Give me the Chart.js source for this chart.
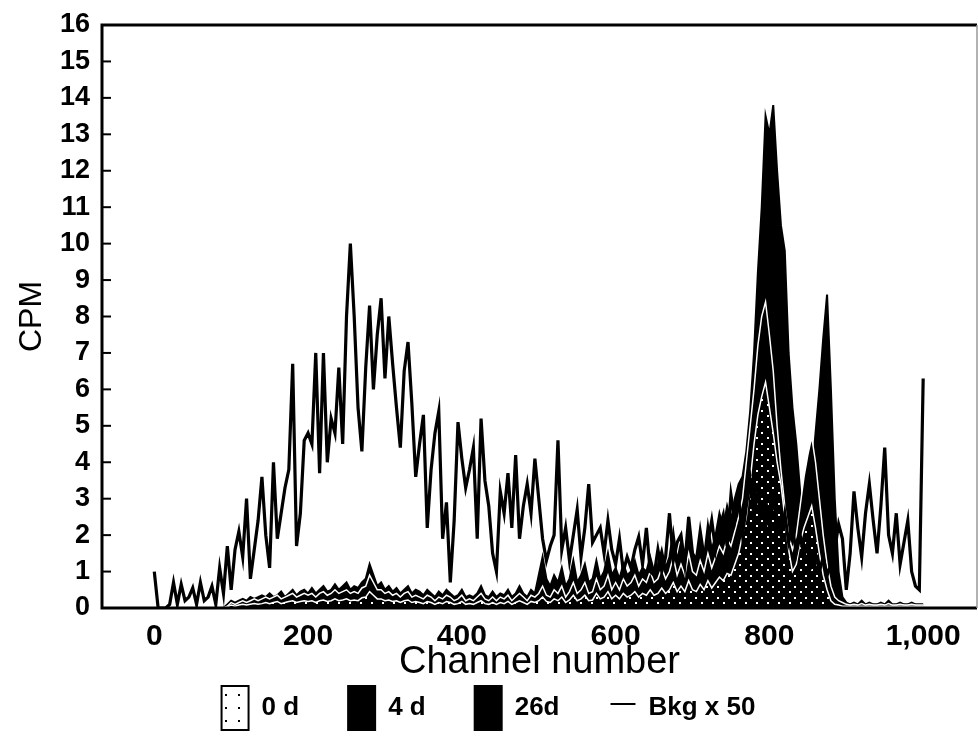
<!DOCTYPE html>
<html>
<head>
<meta charset="utf-8">
<title>CPM vs channel number</title>
<script src="https://cdn.jsdelivr.net/npm/chart.js@4.4.1/dist/chart.umd.min.js"></script>
<style>
  body { margin: 0; background: #fff; }
  canvas { display: block; }
</style>
</head>
<body>
<canvas id="spectrum" width="978" height="740"></canvas>
<script>
// every value array below is sampled every 5 channels, starting at channel 0
const channelStep = 5;

const seriesLabels = ["0 d", "4 d", "26d", "Bkg x 50"];
const xTicks = [0, 200, 400, 600, 800, 1000];
const yTicks = [0, 1, 2, 3, 4, 5, 6, 7, 8, 9, 10, 11, 12, 13, 14, 15, 16];

// 0 d
const cpm0d = [
  0, 0, 0, 0, 0, 0, 0, 0, 0, 0, 0, 0, 0, 0, 0, 0, 0, 0, 0, 0.03,
  0.08, 0.05, 0.08, 0.1, 0.08, 0.1, 0.12, 0.1, 0.12, 0.15, 0.12, 0.15, 0.18, 0.12, 0.15, 0.18, 0.2, 0.15, 0.18, 0.2,
  0.18, 0.2, 0.15, 0.2, 0.22, 0.18, 0.2, 0.25, 0.2, 0.22, 0.25, 0.2, 0.22, 0.2, 0.28, 0.3, 0.45, 0.35, 0.25, 0.25,
  0.2, 0.22, 0.18, 0.2, 0.15, 0.2, 0.22, 0.15, 0.18, 0.15, 0.12, 0.18, 0.15, 0.1, 0.15, 0.12, 0.18, 0.15, 0.1, 0.12,
  0.18, 0.1, 0.12, 0.1, 0.15, 0.2, 0.12, 0.1, 0.15, 0.1, 0.15, 0.12, 0.18, 0.1, 0.15, 0.2, 0.15, 0.1, 0.18, 0.15,
  0.2, 0.3, 0.18, 0.15, 0.25, 0.2, 0.3, 0.15, 0.22, 0.35, 0.2, 0.25, 0.35, 0.2, 0.22, 0.4, 0.25, 0.3, 0.45, 0.25,
  0.35, 0.25, 0.4, 0.3, 0.35, 0.45, 0.3, 0.4, 0.35, 0.5, 0.35, 0.4, 0.55, 0.4, 0.5, 0.7, 0.45, 0.6, 0.45, 0.75,
  0.5, 0.45, 0.65, 0.5, 0.75, 0.55, 0.7, 0.85, 0.75, 0.95, 0.9, 1.2, 1.5, 2.0, 2.5, 3.5, 4.5, 5.3, 5.8, 6.2,
  5.5, 4.8, 4.0, 3.4, 2.5, 1.6, 1.0, 1.2, 1.8, 2.2, 2.5, 2.8, 2.2, 1.5, 0.9, 0.5, 0.2, 0.1, 0.08, 0.05,
  0.05, 0.05, 0.05, 0.05, 0.05, 0.05, 0.05, 0.05, 0.05, 0.05, 0.05, 0.05, 0.05, 0.05, 0.05, 0.05, 0.05, 0.05, 0.05, 0.05,
  0.05
];

// 4 d
const cpm4d = [
  0, 0, 0, 0, 0, 0, 0, 0, 0, 0, 0, 0, 0, 0, 0, 0, 0, 0, 0, 0.05,
  0.15, 0.1, 0.15, 0.2, 0.15, 0.2, 0.25, 0.2, 0.25, 0.3, 0.25, 0.3, 0.35, 0.25, 0.3, 0.35, 0.4, 0.3, 0.35, 0.4,
  0.35, 0.4, 0.3, 0.4, 0.45, 0.35, 0.4, 0.5, 0.4, 0.45, 0.5, 0.4, 0.45, 0.4, 0.55, 0.6, 0.9, 0.7, 0.5, 0.5,
  0.4, 0.45, 0.35, 0.4, 0.3, 0.4, 0.45, 0.3, 0.35, 0.3, 0.25, 0.35, 0.3, 0.2, 0.3, 0.25, 0.35, 0.3, 0.2, 0.25,
  0.35, 0.2, 0.25, 0.2, 0.3, 0.4, 0.25, 0.2, 0.3, 0.2, 0.3, 0.25, 0.35, 0.2, 0.3, 0.4, 0.3, 0.2, 0.35, 0.3,
  0.4, 0.6, 0.35, 0.3, 0.5, 0.4, 0.6, 0.3, 0.45, 0.7, 0.4, 0.5, 0.7, 0.4, 0.45, 0.8, 0.5, 0.6, 0.9, 0.5,
  0.7, 0.5, 0.8, 0.6, 0.7, 0.9, 0.6, 0.8, 0.7, 1.0, 0.7, 0.8, 1.1, 0.8, 1.0, 1.4, 0.9, 1.2, 0.9, 1.5,
  1.0, 0.9, 1.3, 1.0, 1.5, 1.1, 1.4, 1.7, 1.5, 1.9, 1.7, 2.1, 2.5, 3.0, 4.0, 5.0, 6.0, 7.2, 8.0, 8.4,
  7.5, 6.5, 5.0, 3.8, 2.8, 2.0, 1.6, 2.0, 2.8, 3.6, 4.2, 4.7, 4.0, 3.0, 2.0, 1.2, 0.6, 0.3, 0.2, 0.15,
  0.1, 0.08, 0.1, 0.08, 0.12, 0.08, 0.1, 0.08, 0.08, 0.1, 0.08, 0.12, 0.08, 0.08, 0.1, 0.08, 0.08, 0.1, 0.08, 0.08,
  0.08
];

// 26d
const cpm26d = [
  0, 0, 0, 0, 0, 0, 0, 0, 0, 0, 0, 0, 0, 0, 0, 0, 0, 0, 0, 0.1,
  0.2, 0.15, 0.2, 0.25, 0.2, 0.3, 0.25, 0.3, 0.35, 0.3, 0.4, 0.3, 0.35, 0.45, 0.3, 0.4, 0.5, 0.35, 0.45, 0.5,
  0.4, 0.55, 0.4, 0.5, 0.6, 0.45, 0.5, 0.65, 0.5, 0.6, 0.7, 0.5, 0.6, 0.55, 0.7, 0.8, 1.2, 0.9, 0.6, 0.7,
  0.5, 0.6, 0.45, 0.55, 0.4, 0.5, 0.6, 0.4, 0.5, 0.45, 0.35, 0.5, 0.4, 0.3, 0.45, 0.35, 0.5, 0.4, 0.3, 0.35,
  0.5, 0.3, 0.35, 0.3, 0.4, 0.6, 0.35, 0.3, 0.45, 0.3, 0.4, 0.35, 0.5, 0.3, 0.4, 0.6, 0.4, 0.3, 0.5, 0.4,
  0.9, 1.4, 0.8, 0.6, 0.9, 0.7, 1.1, 0.6, 0.8, 1.3, 0.7, 0.9, 1.2, 0.7, 0.8, 1.3, 0.8, 1.0, 1.5, 0.9,
  1.1, 0.8, 1.2, 0.9, 1.0, 1.3, 0.9, 1.1, 1.0, 1.4, 1.0, 1.2, 1.6, 1.1, 1.4, 2.1, 1.3, 1.8, 1.2, 2.3,
  1.5, 1.3, 2.0, 1.4, 2.3, 1.6, 2.0, 2.6, 2.2, 2.8, 2.4, 3.0, 3.4, 3.6, 4.3, 5.4, 7.0, 9.2, 11.0, 13.5,
  13.0, 13.8, 12.0, 10.5, 9.8, 7.0, 5.5, 4.5, 3.2, 2.0, 2.6, 3.6, 4.8, 6.0, 7.4, 8.6, 6.0, 3.0, 1.0, 0.3,
  0.15, 0.1, 0.15, 0.1, 0.2, 0.1, 0.15, 0.1, 0.1, 0.15, 0.1, 0.2, 0.1, 0.1, 0.15, 0.1, 0.1, 0.15, 0.1, 0.1,
  0.1
];

// Bkg x 50
const cpmBkg = [
  1.0, 0, 0, 0, 0.1, 0.7, 0.1, 0.65, 0.2, 0.3, 0.55, 0.1, 0.7, 0.2, 0.3, 0.6, 0.1, 1.1, 0.4, 1.7,
  0.5, 1.6, 2.1, 1.4, 3.0, 0.8, 1.6, 2.4, 3.6, 2.0, 1.1, 4.0, 1.9, 2.6, 3.3, 3.8, 6.7, 1.7, 2.6, 4.6,
  4.8, 4.5, 7.0, 3.7, 7.0, 4.0, 5.2, 4.8, 6.6, 4.5, 8.0, 10.0, 8.0, 5.5, 4.3, 6.6, 8.3, 6.0, 7.5, 8.5,
  6.3, 8.0, 6.7, 5.5, 4.4, 6.5, 7.3, 5.6, 3.6, 4.5, 5.3, 2.2, 3.8, 4.8, 5.4, 1.9, 2.9, 0.7, 2.4, 5.1,
  4.1, 3.3, 3.8, 4.4, 1.9, 5.2, 3.5, 2.8, 1.5, 1.0, 3.2, 2.6, 3.7, 2.2, 4.2, 1.9, 2.8, 3.4, 2.6, 4.1,
  3.0, 1.9, 1.3, 1.7, 2.0, 4.6, 1.6, 2.2, 1.3, 2.0, 2.7, 1.4, 2.2, 3.4, 1.8, 2.0, 2.2, 1.5, 2.4, 1.6,
  1.2, 1.9, 1.0, 1.4, 1.1, 1.6, 1.95, 1.2, 2.2, 1.0, 0.9, 1.6, 1.0, 1.4, 2.6, 1.3, 1.8, 2.0, 1.2, 2.5,
  1.5, 1.3, 2.1, 1.4, 1.8, 2.4, 1.6, 2.2, 2.55, 1.7, 3.1, 2.4, 3.0, 2.0, 2.8, 3.5, 2.5, 3.2, 2.6, 3.0,
  2.2, 3.0, 2.4, 2.0, 2.6, 1.8, 2.2, 1.5, 2.0, 1.4, 1.8, 1.2, 1.5, 1.0, 1.4, 0.9, 1.2, 1.6, 2.3, 1.9,
  0.5, 1.5, 3.2, 2.2, 1.4, 2.6, 3.4, 2.4, 1.5, 2.8, 4.4, 2.0, 1.5, 2.6, 1.2, 1.8, 2.4, 1.0, 0.6, 0.5,
  6.3
];

const font = "'Liberation Sans', Arial, sans-serif";

function toPoints(values) {
  return values.map((v, i) => ({ x: i * channelStep, y: v }));
}

function dotPattern(bg, fg, size, dots) {
  const c = document.createElement("canvas");
  c.width = size;
  c.height = size;
  const g = c.getContext("2d");
  g.fillStyle = bg;
  g.fillRect(0, 0, size, size);
  g.fillStyle = fg;
  for (const d of dots) g.fillRect(d[0], d[1], 2, 2);
  return g.createPattern(c, "repeat");
}

// sparse white specks on black inside the plot, white box with a few dots in the legend
const speckle = dotPattern("#000", "#fff", 11, [[2, 3], [8, 8]]);
const legendDots = dotPattern("#fff", "#000", 13, [[4, 5]]);

const legendFills = [legendDots, "#000", "#000", "rgba(0,0,0,0)"];

const framePlugin = {
  id: "frame",
  afterDatasetsDraw(chart) {
    const { ctx, chartArea: a, scales } = chart;
    ctx.save();
    ctx.strokeStyle = "#000";
    ctx.lineWidth = 2;
    yTicks.forEach(v => {
      const y = scales.y.getPixelForValue(v);
      ctx.beginPath();
      ctx.moveTo(a.left, y);
      ctx.lineTo(a.left + 9, y);
      ctx.stroke();
    });
    ctx.lineWidth = 3;
    ctx.beginPath();
    ctx.moveTo(a.right, a.top);
    ctx.lineTo(a.left, a.top);
    ctx.lineTo(a.left, a.bottom);
    ctx.lineTo(a.right, a.bottom);
    ctx.stroke();
    ctx.strokeStyle = "#999";
    ctx.lineWidth = 1.5;
    ctx.beginPath();
    ctx.moveTo(a.right, a.top);
    ctx.lineTo(a.right, a.bottom);
    ctx.stroke();
    ctx.restore();
  },
  afterDraw(chart) {
    // the line symbol for "Bkg x 50"
    const box = chart.legend.legendHitBoxes[3];
    const bw = chart.legend.options.labels.boxWidth;
    const ctx = chart.ctx;
    ctx.save();
    ctx.strokeStyle = "#000";
    ctx.lineWidth = 2;
    ctx.beginPath();
    ctx.moveTo(box.left + 2, box.top + box.height / 2 - 4);
    ctx.lineTo(box.left + bw, box.top + box.height / 2 - 4);
    ctx.stroke();
    ctx.restore();
  }
};

const ctx = document.getElementById("spectrum");
const chart = new Chart(ctx, {
  type: "line",
  data: {
    datasets: [
      {
        label: seriesLabels[0],
        data: toPoints(cpm0d),
        backgroundColor: speckle,
        borderColor: "#fff",
        borderWidth: 1.5,
        fill: "origin",
        order: 1
      },
      {
        label: seriesLabels[1],
        data: toPoints(cpm4d),
        backgroundColor: "#000",
        borderColor: "#fff",
        borderWidth: 1.5,
        fill: "origin",
        order: 2
      },
      {
        label: seriesLabels[2],
        data: toPoints(cpm26d),
        backgroundColor: "#000",
        borderColor: "#000",
        borderWidth: 2,
        fill: "origin",
        order: 3
      },
      {
        label: seriesLabels[3],
        data: toPoints(cpmBkg),
        borderColor: "#000",
        borderWidth: 3.2,
        fill: false,
        order: 0
      }
    ]
  },
  options: {
    responsive: false,
    animation: false,
    devicePixelRatio: 1,
    layout: { padding: { left: 0, right: 1, top: 25, bottom: 0 } },
    elements: {
      point: { radius: 0 },
      line: { tension: 0 }
    },
    scales: {
      x: {
        type: "linear",
        min: -68,
        max: 1070,
        afterBuildTicks: s => { s.ticks = xTicks.map(v => ({ value: v })); },
        afterFit: s => { s.height = 68; },
        ticks: {
          color: "#000",
          padding: 3,
          autoSkip: false,
          maxRotation: 0,
          font: { family: font, size: 30, weight: "bold" },
          callback: v => v.toLocaleString("en-US")
        },
        grid: { display: false },
        border: { display: false },
        title: {
          display: true,
          text: "Channel number",
          color: "#000",
          padding: { top: 0, bottom: -6 },
          font: { family: font, size: 38, lineHeight: 1 }
        }
      },
      y: {
        min: 0,
        max: 16,
        afterBuildTicks: s => { s.ticks = yTicks.map(v => ({ value: v })); },
        afterFit: s => { s.width = 102; },
        ticks: {
          color: "#000",
          padding: 4,
          autoSkip: false,
          font: { family: font, size: 27, weight: "bold", lineHeight: 1 }
        },
        grid: { display: false },
        border: { display: false },
        title: {
          display: true,
          text: "CPM",
          color: "#000",
          padding: { top: 16, bottom: 0 },
          font: { family: font, size: 32, lineHeight: 1 }
        }
      }
    },
    plugins: {
      tooltip: { enabled: false },
      legend: {
        position: "bottom",
        labels: {
          color: "#000",
          boxWidth: 27,
          boxHeight: 44,
          padding: 10,
          font: { family: font, size: 26, weight: "bold" },
          generateLabels: c => c.data.datasets.map((ds, i) => ({
            text: ds.label + (i < 3 ? "\u2002\u2002\u2002" : ""),
            fillStyle: legendFills[i],
            strokeStyle: i < 3 ? "#000" : "rgba(0,0,0,0)",
            lineWidth: i < 3 ? 2 : 0,
            fontColor: "#000",
            hidden: false,
            datasetIndex: i
          }))
        }
      }
    }
  },
  plugins: [framePlugin]
});
</script>
</body>
</html>
